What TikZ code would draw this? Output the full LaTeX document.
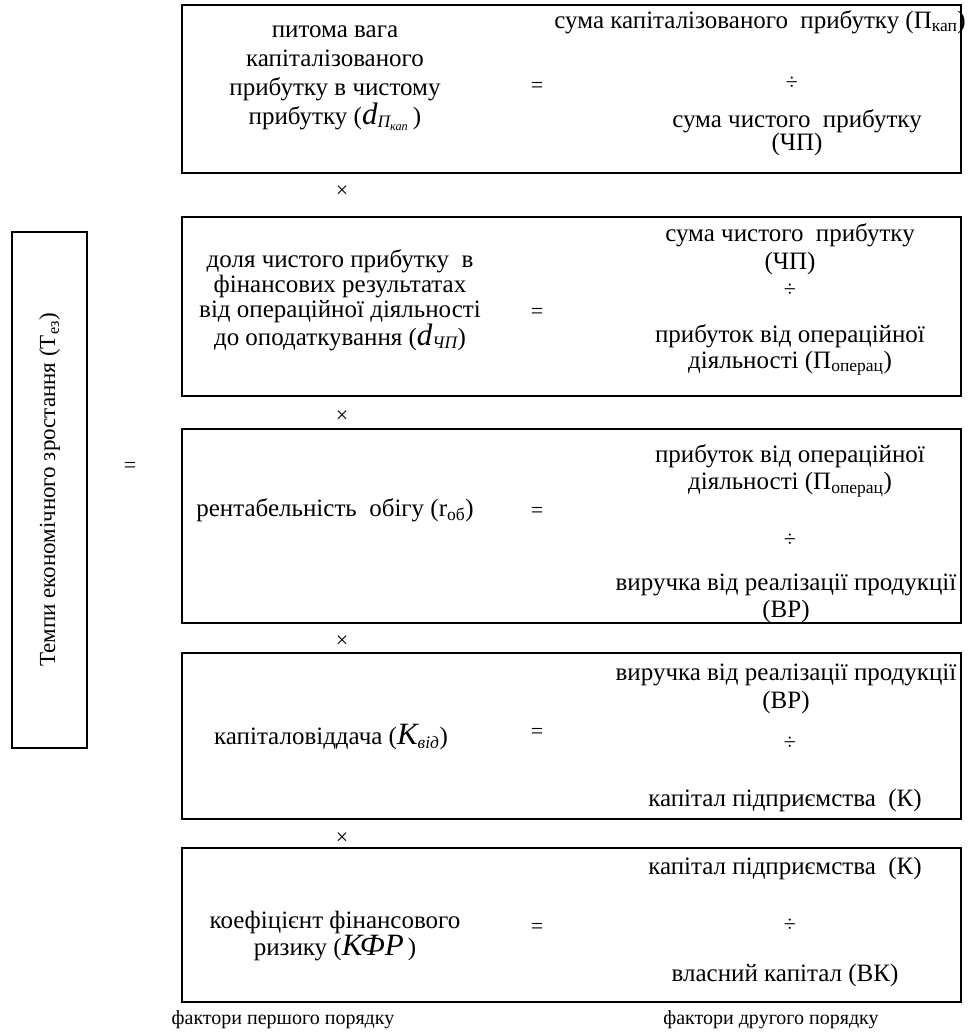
\documentclass[tikz,border=0pt]{standalone}
\usepackage{fontspec}
\setmainfont{Liberation Serif}
\newfontfamily\boxfont{Liberation Serif}
\usetikzlibrary{positioning}

% subscripts in the formula labels
\newcommand{\lowidx}[1]{\textsubscript{#1}}
\newcommand{\bigsym}[1]{{\fontsize{31}{31}\selectfont\itshape #1}}

\begin{document}
\begin{tikzpicture}[x=1pt,y=-1pt,
    factor box/.style={draw,line width=1.6pt,inner sep=0pt},
    main box/.style={draw,line width=2pt,inner sep=0pt},
    txt/.style={align=center,inner sep=0pt,font=\boxfont\fontsize{25}{25}\selectfont},
    sign/.style={inner sep=0pt,font=\boxfont\fontsize{22}{25}\selectfont}]
    \useasboundingbox (0,0) rectangle (968,1036);

    % frames
    \node[main box,minimum width=75pt,minimum height=516pt] (total) at (49.5,490) {};
    \node[factor box,minimum width=779pt,minimum height=168pt] (box1) at (571.5,89) {};
    \node[factor box,minimum width=779pt,minimum height=179pt] (box2) at (571.5,306.5) {};
    \node[factor box,minimum width=779pt,minimum height=194pt] (box3) at (571.5,526) {};
    \node[factor box,minimum width=779pt,minimum height=166pt] (box4) at (571.5,736) {};
    \node[factor box,minimum width=779pt,minimum height=154pt] (box5) at (571.5,925) {};

    \node[txt,rotate=90,font=\boxfont\fontsize{23}{25}\selectfont] (tez) at (total.center) {Темпи економічного зростання (Т\lowidx{ез})};
    \node[sign] (eq0) at (130,467) {=};

    % box 1
    \node[txt,font=\boxfont\fontsize{25}{29}\selectfont] (lt1) at (335,78) {питома вага\\капіталізованого\\прибутку в чистому\\прибутку (\bigsym{d}\lowidx{\itshape П\lowidx{кап}}\,)};
    \node[sign] (eq1) at (537,87) {=};
    \node[txt,anchor=east] (rt1a) at (966,22) {сума капіталізованого \ прибутку (П\lowidx{кап})};
    \node[sign] (div1) at (792,83) {÷};
    \node[txt,font=\boxfont\fontsize{25}{23}\selectfont] (rt1b) at (797,133) {сума чистого \ прибутку\\(ЧП)};

    % box 2
    \node[txt] (lt2) at (340,300) {доля чистого прибутку \ в\\фінансових результатах\\від операційної діяльності\\до оподаткування (\bigsym{d}\lowidx{\itshape ЧП})};
    \node[sign] (eq2) at (537,313) {=};
    \node[txt,font=\boxfont\fontsize{25}{28}\selectfont] (rt2a) at (790,249) {сума чистого \ прибутку\\(ЧП)};
    \node[sign] (div2) at (790,290) {÷};
    \node[txt,font=\boxfont\fontsize{25}{26}\selectfont] (rt2b) at (790,350) {прибуток від операційної\\діяльності (П\lowidx{операц})};

    % box 3
    \node[txt] (lt3) at (335,510) {рентабельність \ обігу (r\lowidx{об})};
    \node[sign] (eq3) at (537,512) {=};
    \node[txt,font=\boxfont\fontsize{25}{27}\selectfont] (rt3a) at (790,471) {прибуток від операційної\\діяльності (П\lowidx{операц})};
    \node[sign] (div3) at (790,540) {÷};
    \node[txt,font=\boxfont\fontsize{25}{27}\selectfont] (rt3b) at (786,598) {виручка від реалізації продукції\\(ВР)};

    % box 4
    \node[txt] (lt4) at (331,737) {капіталовіддача (\bigsym{K}\lowidx{\itshape від})};
    \node[sign] (eq4) at (537,733) {=};
    \node[txt,font=\boxfont\fontsize{25}{28}\selectfont] (rt4a) at (786,689) {виручка від реалізації продукції\\(ВР)};
    \node[sign] (div4) at (790,743) {÷};
    \node[txt] (rt4b) at (785,800) {капітал підприємства \ (К)};

    % box 5
    \node[txt,font=\boxfont\fontsize{25}{27}\selectfont] (lt5) at (335,936) {коефіцієнт фінансового\\ризику (\bigsym{КФР}\,)};
    \node[sign] (eq5) at (537,928) {=};
    \node[txt] (rt5a) at (785,868) {капітал підприємства \ (К)};
    \node[sign] (div5) at (790,925) {÷};
    \node[txt] (rt5b) at (785,975) {власний капітал (ВК)};

    % multiplication signs between the boxes
    \foreach \y/\n in {192/1,417/2,642/3,839/4}
        \node[sign] (times\n) at (342,\y) {×};

    % column captions
    \node[txt,font=\boxfont\fontsize{20}{25}\selectfont] (first) at (283,1020) {фактори першого порядку};
    \node[txt,font=\boxfont\fontsize{20}{25}\selectfont] (second) at (771,1020) {фактори другого порядку};
\end{tikzpicture}
\end{document}
